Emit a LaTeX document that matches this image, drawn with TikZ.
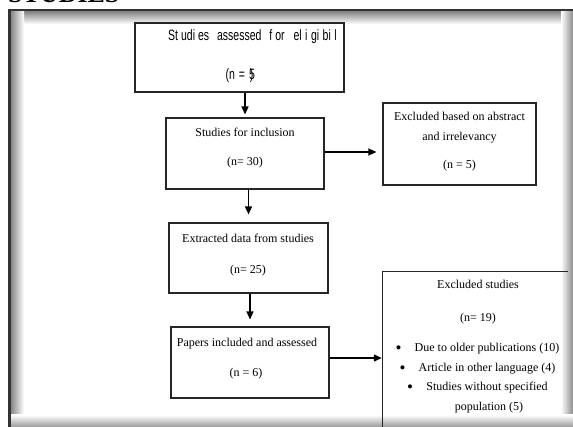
\documentclass[tikz,border=0pt]{standalone}
\usepackage{fontspec}
\setmainfont{Liberation Serif}
\newfontfamily\narrowsans[FakeStretch=0.7]{Liberation Sans}
\usetikzlibrary{arrows.meta}
\begin{document}
\begin{tikzpicture}[x=1pt,y=-1pt,
  box/.style={draw=black!85, line width=1.1pt, inner sep=0pt},
  txt/.style={inner sep=0pt, anchor=base, font=\fontsize{12}{14}\selectfont},
  bul/.style={inner sep=0pt, anchor=base, font=\fontsize{17}{17}\selectfont},
  sanstxt/.style={inner sep=0pt, font=\narrowsans\fontsize{15}{17}\selectfont},
  arr/.style={line width=1.4pt, -{Triangle[length=8pt,width=7pt]}}]
\useasboundingbox (0,0) rectangle (573,427);
\clip (0,0) rectangle (573,427);
\fill[white] (0,0) rectangle (573,427);
% cut-off heading
\node[inner sep=0pt, anchor=base west, font=\bfseries\fontsize{26}{28}\selectfont] (head) at (8,3) {STUDIES};
% frame with shadows
\shade[top color=black!50, bottom color=white] (10,11) rectangle (573,24);
\shade[left color=black!50, right color=white] (10,11) rectangle (24,427);
\shade[left color=white, right color=black!45] (561,11) rectangle (573,427);
\shade[top color=white, bottom color=black!40] (10,415) rectangle (573,427);
\fill[black!80] (8,9) rectangle (573,11.5);
\fill[black!80] (8,9) rectangle (10.5,427);
% boxes
\node[box, minimum width=209pt, minimum height=69pt] (b1) at (239.5,57.5) {};
\node[box, minimum width=158pt, minimum height=71pt] (b2) at (245,153.5) {};
\node[box, minimum width=153pt, minimum height=82pt] (b3) at (459.5,144) {};
\node[box, minimum width=159pt, minimum height=70pt] (b4) at (248.5,258) {};
\node[box, minimum width=158pt, minimum height=71pt] (b5) at (250,362.5) {};
\node[inner sep=0pt, minimum width=185pt, minimum height=170pt] (b6) at (475.5,357) {};
\draw[black!85, line width=1.1pt] (b6.south west) -- (b6.north west) -- (b6.north east);
% box 1 text
\begin{scope}
\clip (b1.north west) rectangle (b1.south east);
\node[sanstxt, anchor=base west] (t1a) at (168,41) {St\kern3pt udi\kern3pt es\hspace{5pt} assessed\hspace{5pt} f\kern3pt or\hspace{6pt} el\kern3.5pt i\kern3.5pt gi\kern3.5pt bi\kern3.5pt l};
\node[sanstxt, anchor=base] (t1b) at (239.5,80) {(n\hspace{4pt}=\hspace{4pt}5\kern-5pt)};
\end{scope}
% box 2
\node[txt] (t2a) at (245,137) {Studies for inclusion};
\node[txt] (t2b) at (245,166) {(n= 30)};
% box 3
\node[txt] (t3a) at (459.5,121) {Excluded based on abstract};
\node[txt] (t3b) at (459.5,141) {and irrelevancy};
\node[txt] (t3c) at (459.5,169) {(n = 5)};
% box 4
\node[txt] (t4a) at (248,243) {Extracted data from studies};
\node[txt] (t4b) at (248,274) {(n= 25)};
% box 5
\node[txt] (t5a) at (247,347) {Papers included and assessed};
\node[txt] (t5b) at (246,377) {(n = 6)};
% box 6
\node[txt] (t6a) at (478,289) {Excluded studies};
\node[txt] (t6b) at (478,322) {(n= 19)};
\node[txt] (t6c) at (487,352) {Due to older publications (10)};
\node[txt] (t6d) at (487,372) {Article in other language (4)};
\node[txt] (t6e) at (487,391) {Studies without specified};
\node[txt] (t6f) at (489,410) {population (5)};
\node[bul] (u1) at ([xshift=-16pt,yshift=-1.2pt]t6c.base west) {\textbullet};
\node[bul] (u2) at ([xshift=-16pt,yshift=-1.2pt]t6d.base west) {\textbullet};
\node[bul] (u3) at ([xshift=-16pt,yshift=-1.2pt]t6e.base west) {\textbullet};
% arrows
\draw[arr, shorten >=3pt] (b2.north |- b1.south) -- (b2.north);
\draw[arr, shorten >=8pt] (b4.north |- b2.south) -- (b4.north);
\draw[arr, shorten >=7pt] (b5.north |- b4.south) -- (b5.north);
\draw[arr, shorten >=6pt] ([yshift=1.5pt]b2.east) -- ([yshift=1.5pt]b2.east -| b3.west);
\draw[arr, shorten >=1pt] ([yshift=4.5pt]b5.east) -- ([yshift=4.5pt]b5.east -| b6.west);
\end{tikzpicture}
\end{document}
